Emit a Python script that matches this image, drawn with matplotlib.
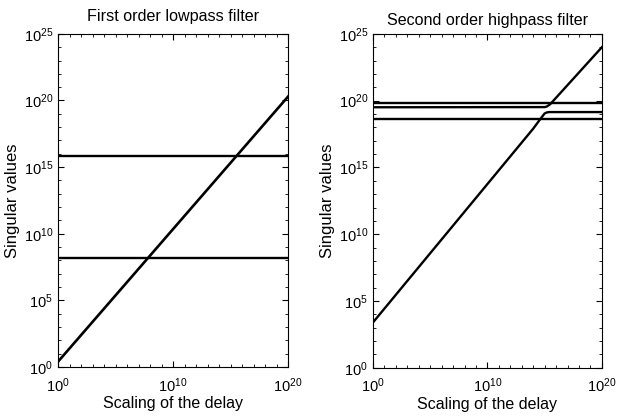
# Singular values vs. delay scaling for two filters

import numpy as np
from matplotlib import pyplot as plt
from matplotlib.ticker import FixedLocator, NullFormatter

plt.rcParams['font.family'] = ['Liberation Sans', 'DejaVu Sans']
plt.rcParams['font.size'] = 11

# Data
delay_lp = [1e0, 1e20]
lp_sv1 = [6.5e15, 6.5e15]
lp_sv2 = [1.5e8, 1.5e8]
lp_sv3 = [2.5e0, 2.0e20]

delay_hp_top = [1e0, 1e20]
hp_sv1 = [7e19, 7e19]
hp_sv4 = [4.4e18, 4.4e18]

delay_hp_sv2 = [1e0, 1e15, 1.5e15, 2e15, 3e15, 4e15, 1e20]
hp_sv2 = [3.2e19, 3.3e19, 3.6e19, 4.2e19, 5.4e19, 7e19, 1e24]

delay_hp_sv3 = [1e0, 1e14, 4e14, 7e14, 1e15, 1.5e15, 2.5e15, 1e20]
hp_sv3 = [2.5e3, 8e17, 4e18, 7.5e18, 1.1e19, 1.3e19, 1.4e19, 1.4e19]

fig = plt.figure(figsize=(6.17, 4.18), dpi=100)
ax1 = fig.add_axes([0.094, 0.122, 0.373, 0.797])
ax2 = fig.add_axes([0.6045, 0.12, 0.371, 0.799])

ax1.loglog(delay_lp, lp_sv1, 'k', lw=1.7)
ax1.loglog(delay_lp, lp_sv2, 'k', lw=1.7)
ax1.loglog(delay_lp, lp_sv3, 'k', lw=1.9)
ax1.set_title('First order lowpass filter', fontsize=11.6, pad=9.5)

ax2.loglog(delay_hp_top, hp_sv1, 'k', lw=1.7)
ax2.loglog(delay_hp_sv2, hp_sv2, 'k', lw=1.7)
ax2.loglog(delay_hp_sv3, hp_sv3, 'k', lw=1.7)
ax2.loglog(delay_hp_top, hp_sv4, 'k', lw=1.7)
ax2.set_title('Second order highpass filter', fontsize=11.6, pad=6.5)

for ax in (ax1, ax2):
    ax.set_xlim(1e0, 1e20)
    ax.set_ylim(1e0, 1e25)
    ax.xaxis.set_major_locator(FixedLocator([1e0, 1e10, 1e20]))
    ax.yaxis.set_major_locator(FixedLocator([1e0, 1e5, 1e10, 1e15, 1e20, 1e25]))
    ax.xaxis.set_minor_locator(FixedLocator(np.logspace(0, 20, 21)))
    ax.yaxis.set_minor_locator(FixedLocator(np.logspace(0, 25, 26)))
    ax.xaxis.set_minor_formatter(NullFormatter())
    ax.yaxis.set_minor_formatter(NullFormatter())
    ax.tick_params(which='both', direction='in', top=True, right=True, labelsize=10.5)
    ax.tick_params(which='major', length=4)
    ax.tick_params(which='minor', length=2.5)
    ax.tick_params(axis='x', which='major', pad=6.5)
    ax.tick_params(axis='y', which='major', pad=3.5)
    ax.set_xlabel('Scaling of the delay', fontsize=11.5, labelpad=1)
    ax.set_ylabel('Singular values', fontsize=12, labelpad=3)

fig.savefig('out.png', dpi=100)
